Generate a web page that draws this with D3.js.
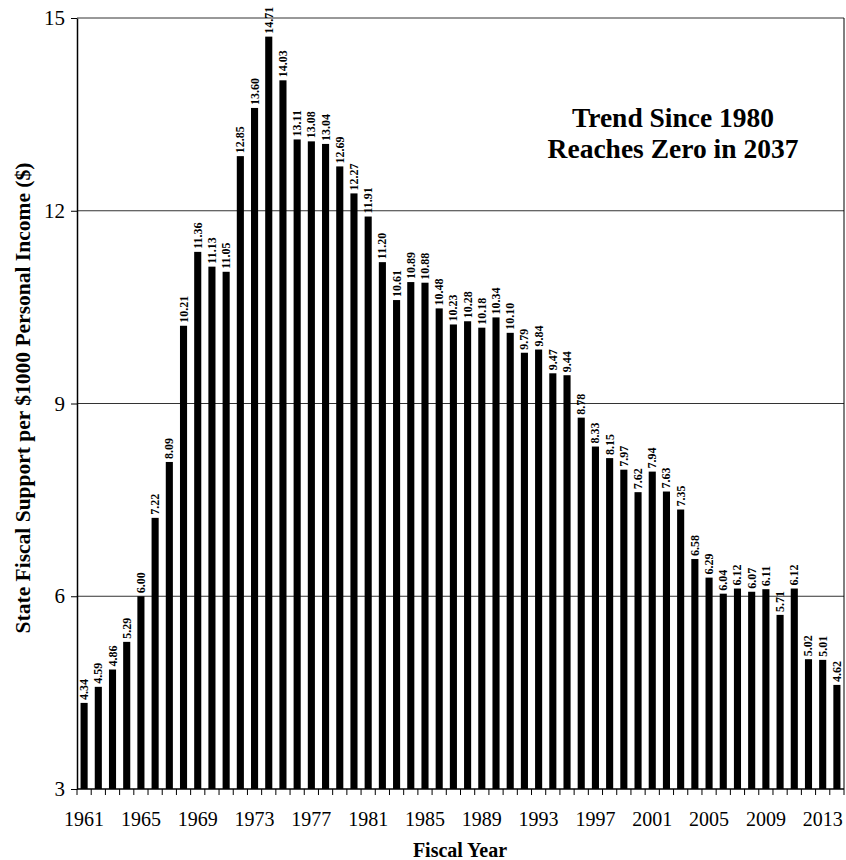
<!DOCTYPE html>
<html>
<head>
<meta charset="utf-8">
<script src="https://cdn.jsdelivr.net/npm/d3@7"></script>
<style>
    body { margin: 0; background: #fff; }
    svg text { font-family: "Times New Roman", "Liberation Serif", "DejaVu Serif", serif; }
</style>
</head>
<body>
<div id="chart"></div>
<script>
// fiscal years 1961..2014
const years = d3.range(1961, 2015);
const support = [
    4.34, 4.59, 4.86, 5.29, 6.00, 7.22, 8.09, 10.21, 11.36, 11.13,
    11.05, 12.85, 13.60, 14.71, 14.03, 13.11, 13.08, 13.04, 12.69, 12.27,
    11.91, 11.20, 10.61, 10.89, 10.88, 10.48, 10.23, 10.28, 10.18, 10.34,
    10.10, 9.79, 9.84, 9.47, 9.44, 8.78, 8.33, 8.15, 7.97, 7.62,
    7.94, 7.63, 7.35, 6.58, 6.29, 6.04, 6.12, 6.07, 6.11, 5.71,
    6.12, 5.02, 5.01, 4.62
];
const yTicks = [3, 6, 9, 12, 15];
const xTickYears = years.filter(y => (y - 1961) % 4 === 0);
const noteLines = ['Trend Since 1980', 'Reaches Zero in 2037'];

const viewBox = {width: 846, height: 860};
const margin = {top: 18, right: 2, bottom: 71, left: 77};
const width = viewBox.width - margin.left - margin.right;
const height = viewBox.height - margin.top - margin.bottom;

const svg = d3.select('#chart').append('svg')
    .attr('width', viewBox.width)
    .attr('height', viewBox.height);

const g = svg.append('g')
    .attr('transform', `translate(${margin.left},${margin.top})`);

const x = d3.scaleBand()
    .domain(years)
    .range([0, width])
    .paddingInner(0.5)
    .paddingOuter(0.25);

const y = d3.scaleLinear()
    .domain([3, 15])
    .range([height, 0]);

//gridlines
g.append('g')
    .selectAll('line')
    .data(yTicks.slice(1))
    .join('line')
    .attr('x1', 0)
    .attr('x2', width)
    .attr('y1', d => y(d))
    .attr('y2', d => y(d))
    .attr('stroke', '#333')
    .attr('stroke-width', 1);

//frame (right side)
g.append('line')
    .attr('x1', width).attr('x2', width)
    .attr('y1', 0).attr('y2', height)
    .attr('stroke', '#000');

//bars
g.append('g')
    .selectAll('rect')
    .data(years)
    .join('rect')
    .attr('x', (d) => x(d))
    .attr('y', (d, i) => y(support[i]))
    .attr('width', x.bandwidth())
    .attr('height', (d, i) => height - y(support[i]))
    .attr('fill', '#000');

//value labels
g.append('g')
    .selectAll('text')
    .data(years)
    .join('text')
    .attr('transform', (d, i) => `translate(${x(d) + x.bandwidth() / 2 + 4},${y(support[i]) - 3}) rotate(-90)`)
    .attr('font-size', 12)
    .attr('font-weight', 'bold')
    .attr('fill', '#000')
    .text((d, i) => support[i].toFixed(2));

//y axis
const yAxis = g.append('g')
    .call(d3.axisLeft(y).tickValues(yTicks).tickSize(6).tickSizeOuter(0).tickPadding(6));
yAxis.select('.domain').attr('stroke', '#000').attr('stroke-width', 1.5);
yAxis.selectAll('text')
    .attr('font-size', 21)
    .attr('fill', '#000');

//x axis: ticks at band boundaries, labels every 4 years
const step = x.step();
const x0 = x(years[0]) - step * x.paddingInner() / 2;
const bounds = d3.range(years.length + 1).map(i => x0 + i * step);
const xAxis = g.append('g')
    .attr('transform', `translate(0,${height})`);
xAxis.append('line')
    .attr('x1', 0).attr('x2', width)
    .attr('stroke', '#000')
    .attr('stroke-width', 1.5);
xAxis.selectAll('line.tick')
    .data(bounds)
    .join('line')
    .attr('class', 'tick')
    .attr('x1', d => d).attr('x2', d => d)
    .attr('y1', 0).attr('y2', 6)
    .attr('stroke', '#000');
xAxis.selectAll('text')
    .data(xTickYears)
    .join('text')
    .attr('x', d => x(d) + x.bandwidth() / 2)
    .attr('y', 37)
    .attr('text-anchor', 'middle')
    .attr('font-size', 20)
    .text(d => d);

//axis titles
svg.append('text')
    .attr('transform', `translate(30,${398}) rotate(-90)`)
    .attr('text-anchor', 'middle')
    .attr('font-size', 21.5)
    .attr('font-weight', 'bold')
    .text('State Fiscal Support per $1000 Personal Income ($)');

svg.append('text')
    .attr('x', 460)
    .attr('y', 857)
    .attr('text-anchor', 'middle')
    .attr('font-size', 20)
    .attr('font-weight', 'bold')
    .text('Fiscal Year');

//annotation
svg.append('g')
    .selectAll('text')
    .data(noteLines)
    .join('text')
    .attr('x', 673)
    .attr('y', (d, i) => 127 + i * 31)
    .attr('text-anchor', 'middle')
    .attr('font-size', 27.5)
    .attr('font-weight', 'bold')
    .text(d => d);
</script>
</body>
</html>
